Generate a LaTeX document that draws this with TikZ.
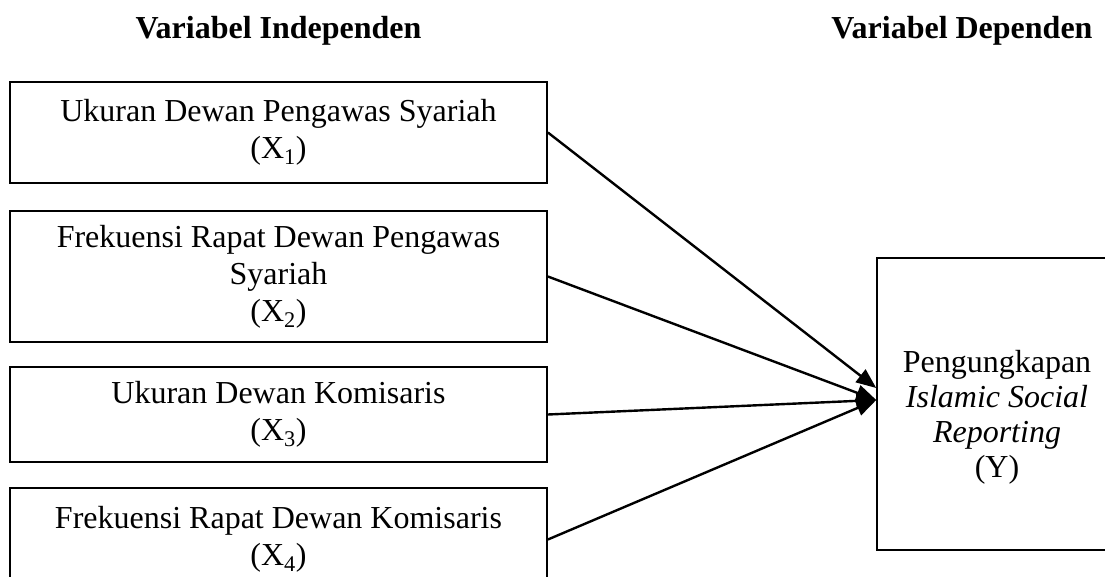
\documentclass[tikz,border=0pt]{standalone}
\usepackage{fontspec}
\setmainfont{Liberation Serif}
\usetikzlibrary{arrows.meta}
\begin{document}
\begin{tikzpicture}[x=1pt,y=-1pt,
  varbox/.style={draw=black, line width=1.8pt, rectangle, inner sep=0pt,
    align=center, font=\fontsize{32}{37}\selectfont, minimum width=537pt},
  head/.style={anchor=base, font=\fontsize{32}{37}\selectfont\bfseries},
  ytext/.style={align=center, inner sep=0pt, font=\fontsize{32}{35}\selectfont},
  link/.style={line width=2.4pt, -{Triangle[length=20pt,width=16pt]}}]
\useasboundingbox (0,0) rectangle (1105,576);
\node[head] (hi) at (278.5,38) {Variabel Independen};
\node[head] (hd) at (962,38) {Variabel Dependen};
\node[varbox, minimum height=101pt] (b1) at (278.5,132.5)
  {Ukuran Dewan Pengawas Syariah\\(X\textsubscript{1})};
\node[varbox, minimum height=131pt] (b2) at (278.5,276.5)
  {Frekuensi Rapat Dewan Pengawas\\Syariah\\(X\textsubscript{2})};
\node[varbox, minimum height=95pt] (b3) at (278.5,414.5)
  {Ukuran Dewan Komisaris\\(X\textsubscript{3})};
\node[varbox, minimum height=103pt] (b4) at (278.5,539.5)
  {Frekuensi Rapat Dewan Komisaris\\(X\textsubscript{4})};
\node[varbox, minimum width=240pt, minimum height=292pt, line width=1.5pt] (y) at (997,404) {};
\node[ytext] (yt) at (997,417)
  {Pengungkapan\\\textit{Islamic Social}\\\textit{Reporting}\\(Y)};
\coordinate (e1) at ([yshift=16pt]y.west);
\coordinate (e2) at ([yshift=4pt]y.west);
\draw[link] (b1.east) -- (e1);
\draw[link] (b2.east) -- (e2);
\draw[link] (b3.east) -- (e2);
\draw[link] (b4.east) -- (e2);
\end{tikzpicture}
\end{document}
